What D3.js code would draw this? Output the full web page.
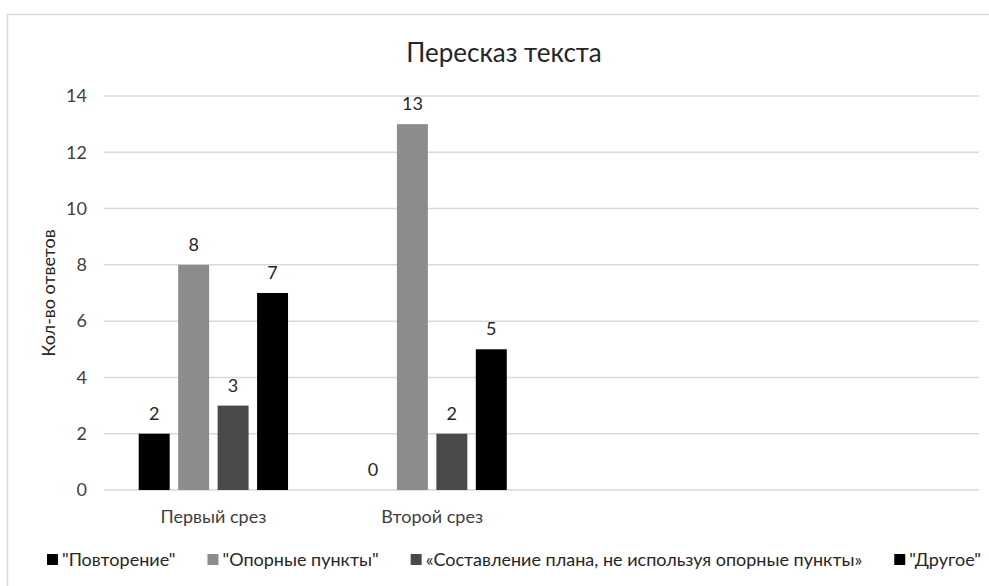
<!DOCTYPE html>
<html>
<head>
<meta charset="utf-8">
<script src="https://cdn.jsdelivr.net/npm/d3@7"></script>
<style>
  body { margin: 0; background: #fff; }
  svg text { font-family: Lato, "Open Sans", sans-serif; }
</style>
</head>
<body>
<div id="chart"></div>
<script>
// data
const categories = ["Первый срез", "Второй срез"];
const seriesNames = ['"Повторение"', '"Опорные пункты"', '«Составление плана, не используя опорные пункты»', '"Другое"'];
const povtorenie = [2, 0];
const opornye = [8, 13];
const sostavlenie = [3, 2];
const drugoe = [7, 5];
const yTicks = [0, 2, 4, 6, 8, 10, 12, 14];
const colors = ["#000000", "#8c8c8c", "#4a4a4a", "#000000"];

const seriesValues = [povtorenie, opornye, sostavlenie, drugoe];

const W = 989, H = 586;
const plot = {left: 104, right: 979, top: 96, bottom: 490};
const slotCount = 4; // excel axis keeps room for 4 categories, last two empty
const slotW = (plot.right - plot.left) / slotCount;

const svg = d3.select("#chart").append("svg")
    .attr("width", W)
    .attr("height", H);

// outer chart frame
svg.append("rect")
    .attr("x", 7.5).attr("y", 14.5)
    .attr("width", 1000).attr("height", 600)
    .attr("fill", "none")
    .attr("stroke", "#d9d9d9")
    .attr("stroke-width", 1.5);

// title
svg.append("text")
    .attr("x", 504)
    .attr("y", 62)
    .attr("text-anchor", "middle")
    .style("font-size", "26px")
    .style("fill", "#262626")
    .text("Пересказ текста");

const x0 = d3.scaleBand()
    .domain(categories)
    .range([plot.left, plot.left + slotW * categories.length]);

const x1 = d3.scaleBand()
    .domain(d3.range(seriesNames.length))
    .range([0, x0.bandwidth()])
    .paddingInner(0.215)
    .paddingOuter(0.88);

const y = d3.scaleLinear()
    .domain([0, 14])
    .range([plot.bottom, plot.top]);

// grid lines
svg.selectAll("line.grid").data(yTicks)
    .enter().append("line")
    .attr("class", "grid")
    .attr("x1", plot.left)
    .attr("x2", plot.right)
    .attr("y1", d => y(d))
    .attr("y2", d => y(d))
    .attr("stroke", "#d9d9d9")
    .attr("stroke-width", 1.5);

// y tick labels
svg.selectAll("text.ytick").data(yTicks)
    .enter().append("text")
    .attr("class", "ytick")
    .attr("x", 87)
    .attr("y", d => y(d))
    .attr("dy", "0.35em")
    .attr("text-anchor", "end")
    .style("font-size", "18px")
    .style("fill", "#404040")
    .text(d => d);

// y axis title
svg.append("text")
    .attr("transform", "translate(55,293) rotate(-90)")
    .attr("text-anchor", "middle")
    .style("font-size", "18px")
    .style("fill", "#262626")
    .text("Кол-во ответов");

// category labels
svg.selectAll("text.cat").data(categories)
    .enter().append("text")
    .attr("class", "cat")
    .attr("x", d => x0(d) + x0.bandwidth() / 2)
    .attr("y", 523)
    .attr("text-anchor", "middle")
    .style("font-size", "18px")
    .style("fill", "#404040")
    .text(d => d);

// bars
const groups = svg.selectAll("g.group").data(categories)
    .enter().append("g")
    .attr("class", "group")
    .attr("transform", d => "translate(" + x0(d) + ",0)");

const cells = groups.selectAll("g.cell")
    .data((c, ci) => seriesValues.map((vals, si) => ({si: si, v: vals[ci]})))
    .enter().append("g");

cells.append("rect")
    .attr("x", d => x1(d.si))
    .attr("width", x1.bandwidth())
    .attr("y", d => y(d.v))
    .attr("height", d => y(0) - y(d.v))
    .attr("fill", d => colors[d.si]);

cells.append("text")
    .attr("x", d => x1(d.si) + x1.bandwidth() / 2)
    .attr("y", d => y(d.v) - 14)
    .attr("text-anchor", "middle")
    .style("font-size", "18px")
    .style("fill", "#262626")
    .text(d => d.v);

// legend, laid out in a row and centred
const legend = svg.append("g").attr("class", "legend");
const items = legend.selectAll("g.item").data(seriesNames)
    .enter().append("g")
    .attr("class", "item");

items.append("rect")
    .attr("width", 11).attr("height", 11)
    .attr("y", -12)
    .attr("fill", (d, i) => colors[i]);

items.append("text")
    .attr("x", 15)
    .style("font-size", "18px")
    .style("fill", "#262626")
    .text(d => d);

let cursor = 0;
const gap = 32;
items.each(function() {
    const w = 15 + d3.select(this).select("text").node().getComputedTextLength();
    d3.select(this).attr("transform", "translate(" + cursor + ",0)");
    cursor += w + gap;
});
const total = cursor - gap;
legend.attr("transform", "translate(" + (514 - total / 2) + ",566)");
</script>
</body>
</html>
